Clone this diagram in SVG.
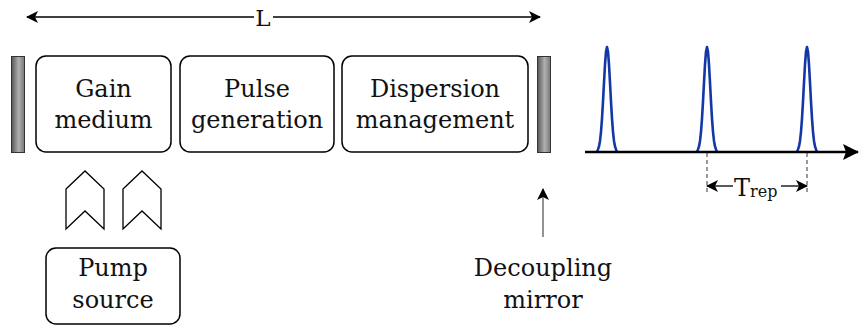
<svg xmlns="http://www.w3.org/2000/svg" width="860" height="326" viewBox="0 0 860 326">
  <style>
    .box { fill: #fff; stroke: #000; stroke-width: 1.5; }
    .lbl { font-family: "DejaVu Serif", "Liberation Serif", serif; font-size: 24px; fill: #111; text-anchor: middle; }
    .line { stroke: #000; stroke-width: 1.3; fill: none; }
    .pulse { stroke: #1437a8; stroke-width: 2.6; fill: none; stroke-linejoin: round; }
    .dash { stroke: #333; stroke-width: 1; stroke-dasharray: 4 3; fill: none; }
    .chev { fill: #fff; stroke: #000; stroke-width: 1.3; stroke-linejoin: miter; }
    .mirror { fill: url(#mirrorGrad); stroke: #333; stroke-width: 1; }
  </style>
  <defs>
    <linearGradient id="mirrorGrad" x1="0" y1="0" x2="1" y2="0">
      <stop offset="0" stop-color="#555"/>
      <stop offset="0.55" stop-color="#b0b0b0"/>
      <stop offset="1" stop-color="#777"/>
    </linearGradient>
    <marker id="ah" viewBox="0 0 12 12" refX="11" refY="6" markerWidth="12" markerHeight="12" markerUnits="userSpaceOnUse" orient="auto">
      <path d="M0,0 L12,6 L0,12 L3,6 Z" fill="#000"/>
    </marker>
    <marker id="ahBig" viewBox="0 0 16 16" refX="15" refY="8" markerWidth="16" markerHeight="16" markerUnits="userSpaceOnUse" orient="auto">
      <path d="M0,0 L16,8 L0,16 L3,8 Z" fill="#000"/>
    </marker>
    <path id="pulseShape" d="M-10,0 L-9,-2.6 L-8,-5.6 L-7,-11.1 L-6,-20.2 L-5,-33.4 L-4,-50.4 L-3,-69.5 L-2,-87.4 L-1,-100.3 L0,-105 L1,-100.3 L2,-87.4 L3,-69.5 L4,-50.4 L5,-33.4 L6,-20.2 L7,-11.1 L8,-5.6 L9,-2.6 L10,0"/>
  </defs>

  <!-- cavity length L -->
  <g id="lengthDim">
    <line class="line" x1="254" y1="17" x2="27" y2="17" marker-end="url(#ah)"/>
    <line class="line" x1="273" y1="17" x2="540" y2="17" marker-end="url(#ah)"/>
    <text class="lbl" x="263" y="26" style="font-size:23px">L</text>
  </g>

  <!-- end mirrors -->
  <g id="mirrorLeft">
    <rect class="mirror" x="11.5" y="56.5" width="13" height="96"/>
  </g>
  <g id="mirrorRight">
    <rect class="mirror" x="537.5" y="56.5" width="13" height="96"/>
  </g>

  <!-- cavity elements -->
  <g id="gainMedium">
    <rect class="box" x="36" y="56" width="135" height="96" rx="10"/>
    <text class="lbl" x="103.5" y="97">Gain</text>
    <text class="lbl" x="103.5" y="128">medium</text>
  </g>
  <g id="pulseGeneration">
    <rect class="box" x="180" y="56" width="154" height="96" rx="10"/>
    <text class="lbl" x="257" y="97">Pulse</text>
    <text class="lbl" x="257" y="128">generation</text>
  </g>
  <g id="dispersionManagement">
    <rect class="box" x="342" y="56" width="186" height="96" rx="10"/>
    <text class="lbl" x="435" y="97">Dispersion</text>
    <text class="lbl" x="435" y="128">management</text>
  </g>

  <!-- pump light -->
  <g id="pumpChevrons">
    <path class="chev" d="M66,189 L85,171 L104,189 L104,229 L85,211 L66,229 Z"/>
    <path class="chev" d="M123,189 L142,171 L161,189 L161,229 L142,211 L123,229 Z"/>
  </g>
  <g id="pumpSource">
    <rect class="box" x="46" y="248" width="134" height="76" rx="10"/>
    <text class="lbl" x="113" y="276">Pump</text>
    <text class="lbl" x="113" y="308">source</text>
  </g>

  <!-- output coupler label -->
  <g id="decouplingMirror">
    <text class="lbl" x="543" y="276">Decoupling</text>
    <text class="lbl" x="543" y="308">mirror</text>
  </g>

  <!-- output pulse train -->
  <g id="pulseTrain">
    <use href="#pulseShape" class="pulse" x="607" y="152"/>
    <use href="#pulseShape" class="pulse" x="707" y="152"/>
    <use href="#pulseShape" class="pulse" x="807" y="152"/>
    <line x1="585" y1="152" x2="858" y2="152" stroke="#000" stroke-width="2.4" marker-end="url(#ahBig)"/>
    <line class="dash" x1="707" y1="153" x2="707" y2="192"/>
    <line class="dash" x1="807" y1="153" x2="807" y2="192"/>
    <text x="734" y="196" style="font-family:'DejaVu Serif','Liberation Serif',serif;font-size:24px;fill:#111">T<tspan style="font-size:16px" dy="1">rep</tspan></text>
  </g>

  <g id="connectors">
    <line class="line" x1="733" y1="186" x2="707" y2="186" marker-end="url(#ah)"/>
    <line class="line" x1="781" y1="186" x2="807" y2="186" marker-end="url(#ah)"/>
    <line x1="543" y1="237" x2="543" y2="189" stroke="#666" stroke-width="1.4" marker-end="url(#ah)"/>
  </g>
</svg>
